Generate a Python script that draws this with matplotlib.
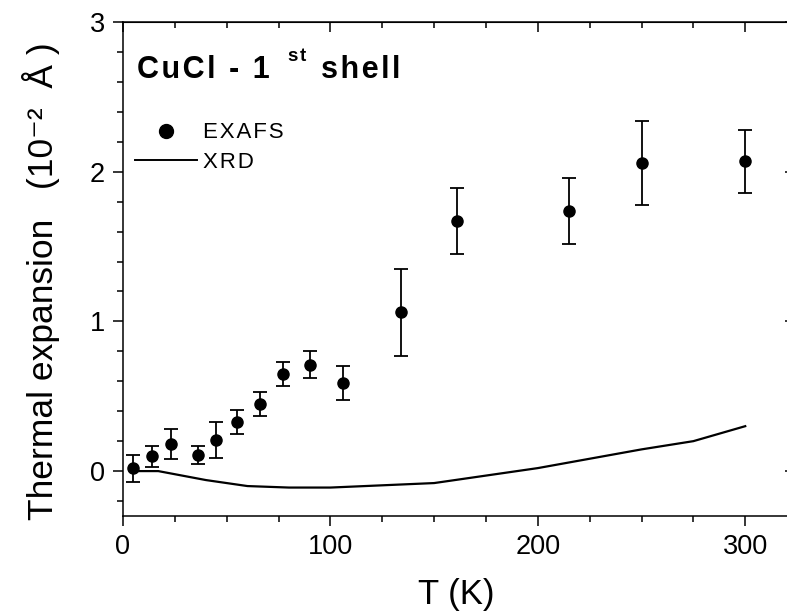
import matplotlib
matplotlib.use('Agg')
import matplotlib.pyplot as plt
from matplotlib.lines import Line2D
from matplotlib.ticker import MultipleLocator

plt.rcParams['font.family'] = ['Liberation Sans', 'DejaVu Sans']
plt.rcParams['mathtext.fontset'] = 'custom'
plt.rcParams['mathtext.rm'] = 'Liberation Sans'
plt.rcParams['mathtext.it'] = 'Liberation Sans:italic'
plt.rcParams['mathtext.bf'] = 'Liberation Sans:bold'

# EXAFS points (T in K, expansion in 10^-2 A, error)
T_exafs = [5, 14, 23, 36, 45, 55, 66, 77, 90, 106, 134, 161, 215, 250, 300]
d_exafs = [0.02, 0.10, 0.18, 0.11, 0.21, 0.33, 0.45, 0.65, 0.71, 0.59,
           1.06, 1.67, 1.74, 2.06, 2.07]
err_exafs = [0.09, 0.07, 0.10, 0.06, 0.12, 0.08, 0.08, 0.08, 0.09, 0.115,
             0.29, 0.22, 0.22, 0.28, 0.21]

# XRD curve
T_xrd = [5, 17, 40, 60, 80, 100, 150, 200, 230, 250, 275, 300]
d_xrd = [0.0, 0.0, -0.06, -0.10, -0.11, -0.11, -0.08, 0.02, 0.095, 0.145, 0.20, 0.30]


def spaced(s):
    # wide letter spacing, as in the original figure
    return '\u200a'.join(s)


fig = plt.figure(figsize=(7.87, 6.11), dpi=100)
# right spine sits just past the edge of the picture
ax = fig.add_axes([123 / 787, 95 / 611, 672 / 787, 494 / 611])

ax.errorbar(T_exafs, d_exafs, yerr=err_exafs, fmt='o', color='black', ms=8,
            capsize=4.7, elinewidth=1.3, capthick=1.3)
ax.plot(T_xrd, d_xrd, color='black', lw=1.6)

ax.set_xlim(0, 324)
ax.set_ylim(-0.3, 3)

ax.xaxis.set_major_locator(MultipleLocator(100))
ax.xaxis.set_minor_locator(MultipleLocator(25))
ax.yaxis.set_major_locator(MultipleLocator(1))
ax.yaxis.set_minor_locator(MultipleLocator(0.2))
ax.tick_params(which='both', direction='out', width=1.1, labelsize=19.5, pad=6)
ax.tick_params(which='major', length=7)
ax.tick_params(which='minor', length=4)
for sp in ax.spines.values():
    sp.set_linewidth(1.1)

# inward ticks on top and right
top = ax.secondary_xaxis('top')
top.xaxis.set_major_locator(MultipleLocator(100))
top.xaxis.set_minor_locator(MultipleLocator(25))
top.tick_params(which='both', direction='in', width=1.1, labeltop=False)
top.tick_params(which='major', length=7)
top.tick_params(which='minor', length=4)
right = ax.secondary_yaxis('right')
right.yaxis.set_major_locator(MultipleLocator(1))
right.yaxis.set_minor_locator(MultipleLocator(0.2))
right.tick_params(which='both', direction='in', width=1.1, labelright=False)
right.tick_params(which='major', length=7)
right.tick_params(which='minor', length=4)

ax.set_xlabel('T (K)', fontsize=25)
ax.xaxis.set_label_coords(0.496, -0.125)
ax.set_ylabel('Thermal expansion   (10\u207b\u00b2  Å )', fontsize=25.5, va='center')
ax.yaxis.set_label_coords(-0.122, 0.475)

# title inside the plot
ax.text(0.021, 0.887, spaced('CuCl - 1'), transform=ax.transAxes,
        fontsize=22, fontweight='bold', va='baseline')
ax.text(0.2455, 0.921, spaced('st'), transform=ax.transAxes,
        fontsize=13.5, fontweight='bold', va='baseline')
ax.text(0.2946, 0.887, spaced('shell'), transform=ax.transAxes,
        fontsize=22, fontweight='bold', va='baseline')

handles = [Line2D([], [], marker='o', ls='none', ms=10, color='black'),
           Line2D([], [], color='black', lw=1.4)]
ax.legend(handles, [spaced('EXAFS'), spaced('XRD')], loc='upper left',
          bbox_to_anchor=(0.018, 0.797), frameon=False, fontsize=16,
          borderpad=0, borderaxespad=0, handlelength=2.8,
          handletextpad=0.27, labelspacing=0.4)

fig.savefig('out.png', dpi=100)
